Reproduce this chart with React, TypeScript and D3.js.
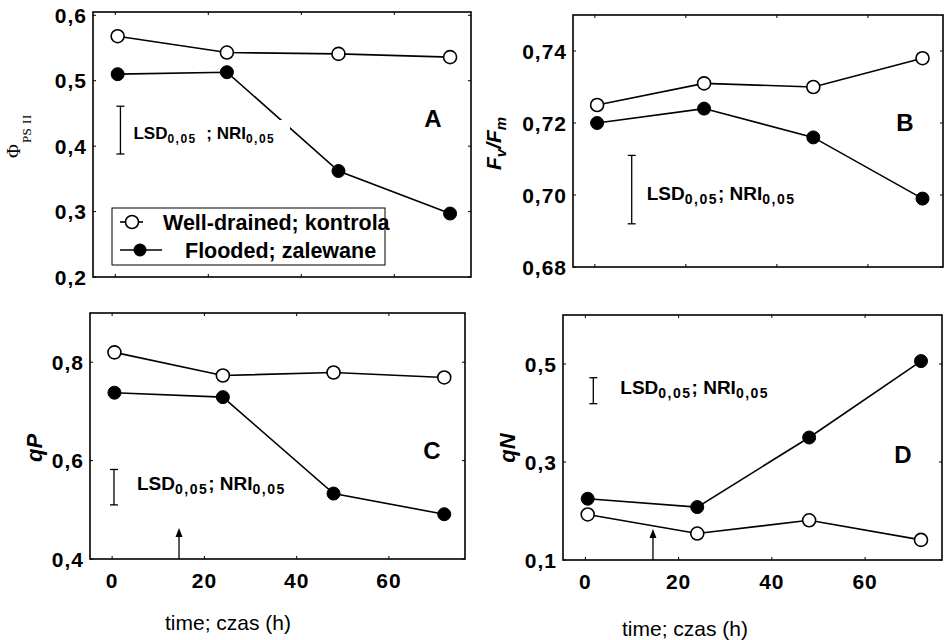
import React from "react";
import * as d3 from "d3";

// ---- data ----
const hours = [0.5, 24, 48, 72];
const hourTicks = [0, 20, 40, 60];
const arrowHour = 14.5;

const phiWell = [0.568, 0.543, 0.541, 0.536];
const phiFlood = [0.51, 0.513, 0.362, 0.297];
const phiTicks = [0.2, 0.3, 0.4, 0.5, 0.6];
const phiLsd = [0.388, 0.461];

const fvWell = [0.725, 0.731, 0.73, 0.738];
const fvFlood = [0.72, 0.724, 0.716, 0.699];
const fvTicks = [0.68, 0.7, 0.72, 0.74];
const fvLsd = [0.692, 0.711];

const qpWell = [0.82, 0.773, 0.779, 0.769];
const qpFlood = [0.738, 0.729, 0.533, 0.491];
const qpTicks = [0.4, 0.6, 0.8];
const qpLsd = [0.51, 0.582];

const qnWell = [0.193, 0.154, 0.181, 0.141];
const qnFlood = [0.225, 0.208, 0.35, 0.506];
const qnTicks = [0.1, 0.3, 0.5];
const qnLsd = [0.419, 0.472];

const legendLabels = ["Well-drained; kontrola", "Flooded; zalewane"];
const xTitle = "time; czas (h)";

const SANS = "'Liberation Sans', Arial, Helvetica, sans-serif";
const SERIF = "'Liberation Serif', 'Times New Roman', serif";

type Panel = {
  key: string;
  left: number; top: number; right: number; bottom: number;
  yDomain: [number, number];
  ticks: number[];
  fmt: string;
  well: number[];
  flood: number[];
  lsd: number[];
  lsdX: number;
  lsdText: { dx: number; y: number; size: number; sub: number; gap: string };
  letter: { x: number; y: number };
  arrow: boolean;
  xTitle?: { x: number; y: number };
  mask?: { x: number; y: number; w: number; h: number };
};

const xDomain: [number, number] = [-4.8, 76.5];

const panels: Panel[] = [
  {
    key: "A", left: 93, top: 12, right: 471, bottom: 277,
    yDomain: [0.2, 0.605], ticks: phiTicks, fmt: ".1f",
    well: phiWell, flood: phiFlood, lsd: phiLsd, lsdX: 1.1,
    lsdText: { dx: 13, y: 139, size: 17, sub: 12, gap: "  ; " },
    letter: { x: 433, y: 118 }, arrow: false,
    mask: { x: 128, y: 120, w: 162, h: 26 },
  },
  {
    key: "B", left: 573, top: 15, right: 943, bottom: 267,
    yDomain: [0.68, 0.75], ticks: fvTicks, fmt: ".2f",
    well: fvWell, flood: fvFlood, lsd: fvLsd, lsdX: 8.1,
    lsdText: { dx: 15, y: 200, size: 19, sub: 14, gap: "; " },
    letter: { x: 905, y: 122 }, arrow: false,
  },
  {
    key: "C", left: 90, top: 313, right: 465, bottom: 559,
    yDomain: [0.4, 0.9], ticks: qpTicks, fmt: ".1f",
    well: qpWell, flood: qpFlood, lsd: qpLsd, lsdX: 0.4,
    lsdText: { dx: 23, y: 490, size: 19, sub: 14, gap: "; " },
    letter: { x: 432, y: 450 }, arrow: true, xTitle: { x: 228, y: 622 },
  },
  {
    key: "D", left: 563, top: 315, right: 942, bottom: 560,
    yDomain: [0.1, 0.6], ticks: qnTicks, fmt: ".1f",
    well: qnWell, flood: qnFlood, lsd: qnLsd, lsdX: 1.7,
    lsdText: { dx: 27, y: 394, size: 19, sub: 14, gap: "; " },
    letter: { x: 903, y: 454 }, arrow: true, xTitle: { x: 685, y: 628 },
  },
];

function PanelView({ p }: { p: Panel }) {
  const x = d3.scaleLinear().domain(xDomain).range([p.left, p.right]);
  const y = d3.scaleLinear().domain(p.yDomain).range([p.bottom, p.top]);
  const fmt = d3.format(p.fmt);
  const line = d3
    .line<number>()
    .x((_, i) => x(hours[i]))
    .y((v) => y(v));
  const tl = 3;
  const lsdPx = x(p.lsdX);
  const lt = p.lsdText;
  return (
    <g>
      <rect
        x={p.left} y={p.top} width={p.right - p.left} height={p.bottom - p.top}
        fill="none" stroke="#000" strokeWidth={1.6}
      />
      {p.ticks.map((t) => (
        <g key={"y" + t}>
          <line x1={p.left} x2={p.left + tl} y1={y(t)} y2={y(t)} stroke="#000" strokeWidth={1} />
          <line x1={p.right} x2={p.right - tl} y1={y(t)} y2={y(t)} stroke="#000" strokeWidth={1} />
          <text
            x={p.left - 6} y={y(t)} textAnchor="end" dominantBaseline="central"
            fontFamily={SANS} fontWeight="bold" fontSize={21} letterSpacing={1}
          >
            {fmt(t).replace(".", ",")}
          </text>
        </g>
      ))}
      {hourTicks.map((t) => (
        <g key={"x" + t}>
          <line x1={x(t)} x2={x(t)} y1={p.bottom} y2={p.bottom - tl} stroke="#000" strokeWidth={1} />
          <line x1={x(t)} x2={x(t)} y1={p.top} y2={p.top + tl} stroke="#000" strokeWidth={1} />
          {p.xTitle && (
            <text
              x={x(t)} y={p.bottom + 21} textAnchor="middle" dominantBaseline="central"
              fontFamily={SANS} fontWeight="bold" fontSize={21} letterSpacing={1}
            >
              {t}
            </text>
          )}
        </g>
      ))}
      {p.xTitle && (
        <text
          x={p.xTitle.x} y={p.xTitle.y} textAnchor="middle" dominantBaseline="central"
          fontFamily={SANS} fontSize={21}
        >
          {xTitle}
        </text>
      )}
      <path d={line(p.well) || ""} fill="none" stroke="#000" strokeWidth={1.6} />
      <path d={line(p.flood) || ""} fill="none" stroke="#000" strokeWidth={1.6} />
      {p.mask && (
        <rect x={p.mask.x} y={p.mask.y} width={p.mask.w} height={p.mask.h} fill="#fff" />
      )}
      {p.flood.map((v, i) => (
        <circle key={"f" + i} cx={x(hours[i])} cy={y(v)} r={6.5} fill="#000" stroke="#000" strokeWidth={1} />
      ))}
      {p.well.map((v, i) => (
        <circle key={"w" + i} cx={x(hours[i])} cy={y(v)} r={6.5} fill="#fff" stroke="#000" strokeWidth={1.6} />
      ))}
      <line x1={lsdPx} x2={lsdPx} y1={y(p.lsd[0])} y2={y(p.lsd[1])} stroke="#000" strokeWidth={1.3} />
      <line x1={lsdPx - 4} x2={lsdPx + 4} y1={y(p.lsd[0])} y2={y(p.lsd[0])} stroke="#000" strokeWidth={1.3} />
      <line x1={lsdPx - 4} x2={lsdPx + 4} y1={y(p.lsd[1])} y2={y(p.lsd[1])} stroke="#000" strokeWidth={1.3} />
      <text x={lsdPx + lt.dx} y={lt.y} fontFamily={SANS} fontWeight="bold" fontSize={lt.size} style={{ whiteSpace: "pre" }}>
        <tspan>LSD</tspan>
        <tspan fontSize={lt.sub} dy={4} letterSpacing={1.5}>0,05</tspan>
        <tspan dy={-4}>{lt.gap}NRI</tspan>
        <tspan fontSize={lt.sub} dy={4} letterSpacing={1.5}>0,05</tspan>
      </text>
      <text
        x={p.letter.x} y={p.letter.y} textAnchor="middle" dominantBaseline="central"
        fontFamily={SANS} fontWeight="bold" fontSize={24}
      >
        {p.key}
      </text>
      {p.arrow && (
        <g>
          <line x1={x(arrowHour)} x2={x(arrowHour)} y1={p.bottom} y2={p.bottom - 24} stroke="#000" strokeWidth={1.3} />
          <path
            d={`M${x(arrowHour)},${p.bottom - 31} L${x(arrowHour) - 3.5},${p.bottom - 22} L${x(arrowHour) + 3.5},${p.bottom - 22} Z`}
            fill="#000"
          />
        </g>
      )}
    </g>
  );
}

export default function App() {
  return (
    <svg
      width={947} height={640}
      style={{ position: "absolute", left: 0, top: 0, background: "#fff" }}
    >
      <rect width={947} height={640} fill="#fff" />
      {panels.map((p) => (
        <PanelView key={p.key} p={p} />
      ))}
      <g>
        <rect x={112} y={208} width={273} height={57} fill="#fff" stroke="#000" strokeWidth={1} />
        <line x1={120} x2={143} y1={222} y2={222} stroke="#000" strokeWidth={1.6} />
        <circle cx={132} cy={222} r={6.5} fill="#fff" stroke="#000" strokeWidth={1.6} />
        <text x={163} y={223} dominantBaseline="central" fontFamily={SANS} fontWeight="bold" fontSize={21.5}>
          {legendLabels[0]}
        </text>
        <line x1={120} x2={162} y1={250} y2={250} stroke="#000" strokeWidth={1.6} />
        <circle cx={140} cy={250} r={6.5} fill="#000" />
        <text x={185} y={251} dominantBaseline="central" fontFamily={SANS} fontWeight="bold" fontSize={21.5}>
          {legendLabels[1]}
        </text>
      </g>
      <text transform="translate(20,158) rotate(-90)" fontFamily={SERIF} fontSize={19}>
        <tspan>Φ</tspan>
        <tspan fontSize={13} dy={11} dx={1} letterSpacing={0.5}>PS II</tspan>
      </text>
      <text transform="translate(501,170) rotate(-90)" fontFamily={SANS} fontWeight="bold" fontStyle="italic" fontSize={21}>
        <tspan>F</tspan>
        <tspan fontSize={15} dy={5}>v</tspan>
        <tspan dy={-5}>/F</tspan>
        <tspan fontSize={15} dy={5}>m</tspan>
      </text>
      <text transform="translate(42,448) rotate(-90)" textAnchor="middle" fontFamily={SANS} fontWeight="bold" fontStyle="italic" fontSize={22}>
        qP
      </text>
      <text transform="translate(515,448) rotate(-90)" textAnchor="middle" fontFamily={SANS} fontWeight="bold" fontStyle="italic" fontSize={22}>
        qN
      </text>
    </svg>
  );
}
